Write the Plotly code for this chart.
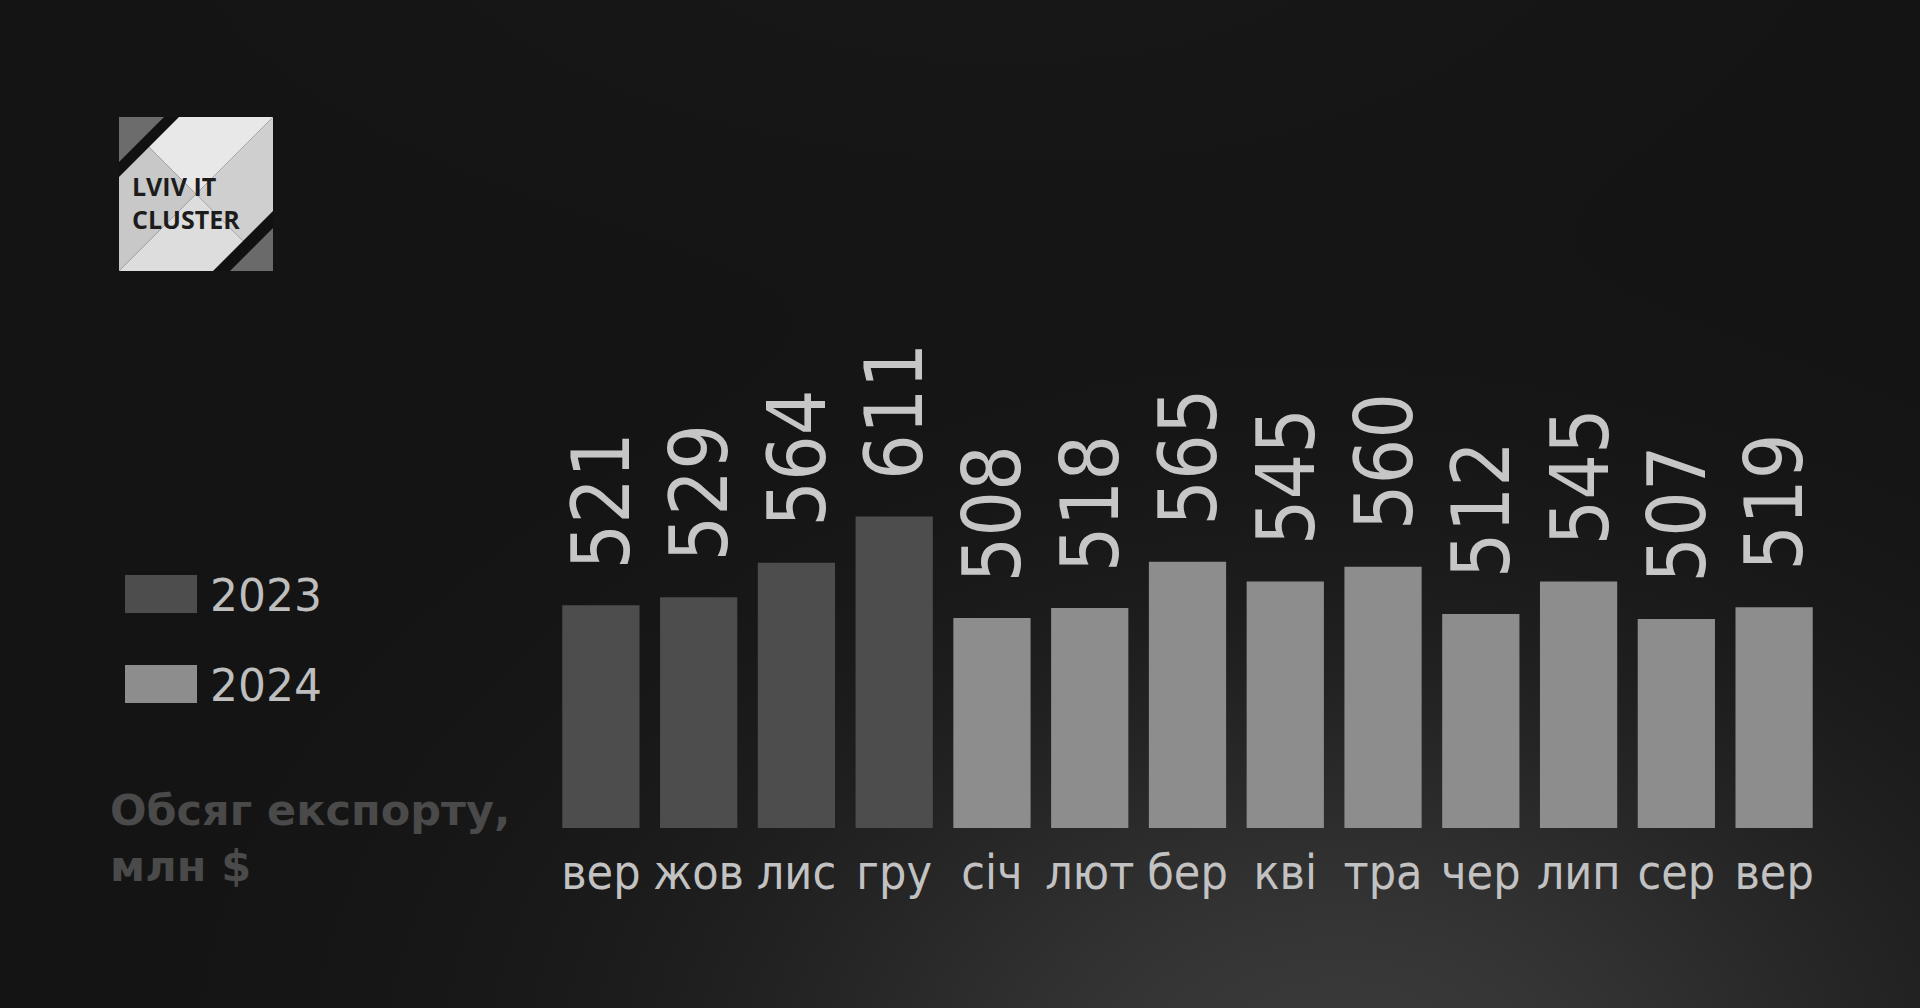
import base64, struct, zlib
import numpy as np
import plotly.graph_objects as go

# ---------------- data ----------------
months = ["вер", "жов", "лис", "гру", "січ", "лют", "бер", "кві", "тра", "чер", "лип", "сер", "вер"]
values_2023 = [521, 529, 564, 611]
values_2024 = [508, 518, 565, 545, 560, 512, 545, 507, 519]
series_names = ["2023", "2024"]
axis_title = "Обсяг експорту,<br>млн $"
logo_text = "LVIV IT<br>CLUSTER"

# ---------------- geometry ----------------
W, H = 1920, 1008
ML, MR, MT, MB = 552, 97, 300, 180
PW, PH = W - ML - MR, H - MT - MB
Y0 = 295
Y1 = Y0 + PH / 0.986


def px(x):
    return (x - ML) / PW


def py(y):
    return (H - MB - y) / PH


# ---------------- background gradient png ----------------
def make_bg():
    w, h = 480, 252
    xs = (np.arange(w) + 0.5) * W / w
    ys = (np.arange(h) + 0.5) * H / h
    X, Y = np.meshgrid(xs, ys)
    L = 20 + 38 * np.exp(-((X - 1340) / 600) ** 2 - ((Y - 1070) / 400) ** 2)
    L += 4 * np.exp(-((X - 1000) / 700) ** 2 - ((Y + 100) / 300) ** 2)
    arr = np.clip(L, 0, 255).astype(np.uint8)
    raw = b"".join(b"\x00" + row.tobytes() for row in arr)

    def chunk(t, d):
        return struct.pack(">I", len(d)) + t + d + struct.pack(">I", zlib.crc32(t + d) & 0xFFFFFFFF)

    ihdr = struct.pack(">IIBBBBB", w, h, 8, 0, 0, 0, 0)
    png = b"\x89PNG\r\n\x1a\n" + chunk(b"IHDR", ihdr) + chunk(b"IDAT", zlib.compress(raw, 9)) + chunk(b"IEND", b"")
    return "data:image/png;base64," + base64.b64encode(png).decode()


c2023 = "#4d4d4d"
c2024 = "#8d8d8d"
label_color = "#c6c6c6"
narrow = "DejaVu Sans Condensed, DejaVu Sans, sans-serif"

x_all = list(range(len(months)))
x2023 = x_all[: len(values_2023)]
x2024 = x_all[len(values_2023):]

fig = go.Figure()
fig.add_trace(go.Bar(x=x2023, y=values_2023, name=series_names[0], marker=dict(color=c2023, line=dict(width=0)),
                     showlegend=False, hoverinfo="x+y"))
fig.add_trace(go.Bar(x=x2024, y=values_2024, name=series_names[1], marker=dict(color=c2024, line=dict(width=0)),
                     showlegend=False, hoverinfo="x+y"))

annotations = []
for xi, v in zip(x2023 + x2024, values_2023 + values_2024):
    annotations.append(dict(x=xi, y=v, xref="x", yref="y", text=str(v), textangle=-90, showarrow=False,
                            yanchor="bottom", xanchor="center", yshift=34, xshift=1,
                            font=dict(family=narrow, size=80, color=label_color)))

# legend (drawn manually)
shapes = []
leg = [(series_names[0], c2023, 575, 613), (series_names[1], c2024, 665, 703)]
for name, col, y0, y1 in leg:
    shapes.append(dict(type="rect", xref="paper", yref="paper", x0=px(125), x1=px(197), y0=py(y1), y1=py(y0),
                       fillcolor=col, line=dict(width=0), layer="above"))
    annotations.append(dict(x=px(208), y=py((y0 + y1) / 2 + 1), xref="paper", yref="paper", text=name,
                            showarrow=False, xanchor="left", yanchor="middle",
                            font=dict(family="DejaVu Sans", size=44, color="#bebebe")))

# axis title
annotations.append(dict(x=px(108), y=py(838), xref="paper", yref="paper", text=axis_title, showarrow=False,
                        xanchor="left", yanchor="middle", align="left",
                        font=dict(family="DejaVu Sans", size=43, color="#4a4a4a", weight=700)))


# logo
def poly(pts, col):
    d = "M " + " L ".join(f"{px(a):.5f},{py(b):.5f}" for a, b in pts) + " Z"
    return dict(type="path", xref="paper", yref="paper", path=d, fillcolor=col, line=dict(width=0), layer="above")


x0, y0, x1, y1 = 119, 117, 273, 271
cx, cy = (x0 + x1) / 2, (y0 + y1) / 2
shapes += [
    poly([(x0, y0), (x1, y0), (cx, cy)], "#e8e8e8"),
    poly([(x1, y0), (x1, y1), (cx, cy)], "#cfcfcf"),
    poly([(x0, y1), (x1, y1), (cx, cy)], "#dddddd"),
    poly([(x0, y0), (x0, y1), (cx, cy)], "#c8c8c8"),
    poly([(x0, y0), (x0 + 60, y0), (x0, y0 + 60)], "#111111"),
    poly([(x0, y0), (x0 + 45, y0), (x0, y0 + 45)], "#6c6c6c"),
    poly([(x1, y1), (x1 - 60, y1), (x1, y1 - 60)], "#111111"),
    poly([(x1, y1), (x1 - 43, y1), (x1, y1 - 43)], "#6a6a6a"),
]
annotations.append(dict(x=px(130), y=py(202), xref="paper", yref="paper", text=logo_text, showarrow=False,
                        xanchor="left", yanchor="middle", align="left",
                        font=dict(family="Open Sans", size=25, color="#1c1c1c", weight=700)))

fig.update_layout(
    width=W, height=H,
    margin=dict(l=ML, r=MR, t=MT, b=MB, autoexpand=False),
    paper_bgcolor="#161616", plot_bgcolor="rgba(0,0,0,0)",
    barmode="overlay", bargap=0.21,
    showlegend=False,
    xaxis=dict(range=[-0.5, len(months) - 0.5], tickvals=x_all, ticktext=months, showgrid=False,
               zeroline=False, showline=False, ticks="", ticklabelstandoff=12,
               tickfont=dict(family=narrow, size=48, color="#c2c2c2"), fixedrange=True),
    yaxis=dict(range=[Y0, Y1], visible=False, fixedrange=True),
    images=[dict(source=make_bg(), xref="paper", yref="paper", x=px(0), y=py(0), sizex=W / PW, sizey=H / PH,
                 xanchor="left", yanchor="top", sizing="stretch", layer="below")],
    shapes=shapes,
    annotations=annotations,
)

fig.write_html("out.html", config={"displayModeBar": False},
               post_script="document.body.style.margin='0';document.body.style.overflow='hidden';")
